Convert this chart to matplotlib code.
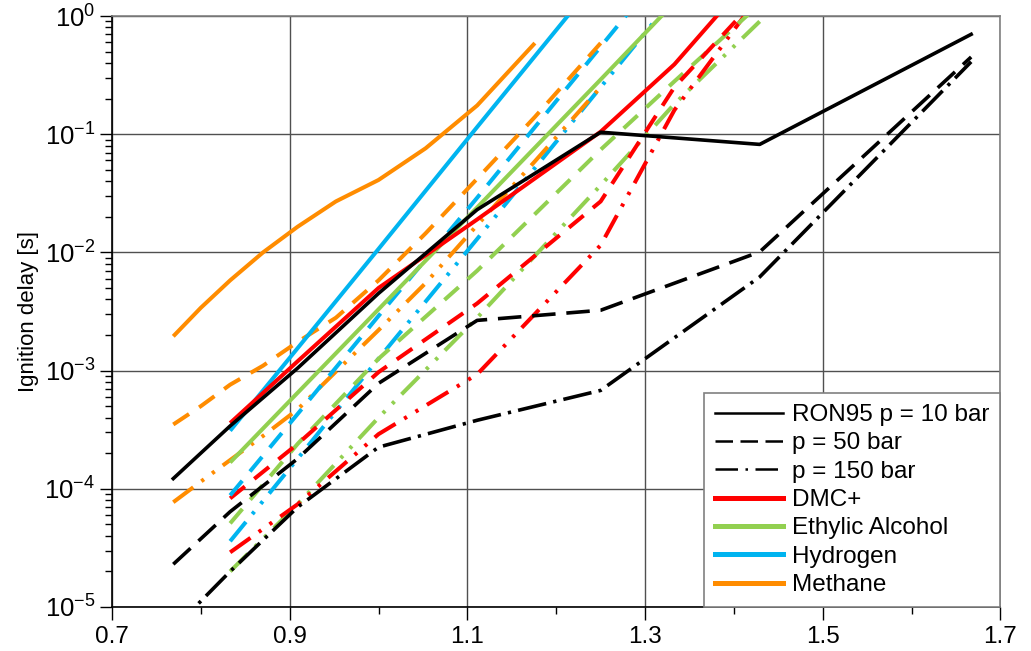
import numpy as np
import matplotlib
matplotlib.use('Agg')
import matplotlib.pyplot as plt
from matplotlib.lines import Line2D
from matplotlib.ticker import FixedLocator, FuncFormatter, LogLocator, NullFormatter

plt.rcParams['font.family'] = ['Liberation Sans', 'DejaVu Sans']
plt.rcParams['mathtext.default'] = 'regular'

# air ratio values (x)
x_ron = [0.769, 0.833, 0.909, 1.0, 1.111, 1.25, 1.429, 1.667]
x_ch4 = [0.769, 0.8, 0.833, 0.870, 0.909, 0.952, 1.0, 1.053, 1.111, 1.176, 1.25]
x_h2 = [0.833, 0.909, 1.0, 1.111, 1.25, 1.333]
x_dmc = [0.833, 0.909, 1.0, 1.111, 1.25, 1.333, 1.429]
x_eth = [0.833, 0.909, 1.0, 1.111, 1.25, 1.333, 1.429]

# ignition delay [s]
ron_10 = [1.22e-4, 3.4e-4, 1.05e-3, 4.5e-3, 2.3e-2, 0.104, 0.082, 0.70]
ron_50 = [2.3e-5, 6.4e-5, 1.8e-4, 7.8e-4, 2.66e-3, 3.24e-3, 1.01e-2, 0.45]
ron_150 = [6.5e-6, 2.0e-5, 7.0e-5, 2.25e-4, 3.8e-4, 6.8e-4, 6.2e-3, 0.41]

ch4_10 = [1.95e-3, 3.4e-3, 5.8e-3, 1.0e-2, 1.65e-2, 2.7e-2, 4.1e-2, 7.6e-2, 0.175, 0.59]
ch4_50 = [3.5e-4, 5.0e-4, 7.6e-4, 1.1e-3, 1.75e-3, 2.8e-3, 5.8e-3, 1.45e-2, 4.2e-2, 0.14, 0.59]
ch4_150 = [7.7e-5, 1.15e-4, 1.75e-4, 2.8e-4, 4.7e-4, 9.8e-4, 2.2e-3, 5.5e-3, 1.7e-2, 5.9e-2, 0.25]

h2_10 = [3.1e-4, 1.55e-3, 1.07e-2, 0.115, 2.2, 10.0]
h2_50 = [8.8e-5, 4.3e-4, 2.9e-3, 2.9e-2, 0.55, 3.2]
h2_150 = [3.6e-5, 1.8e-4, 1.26e-3, 1.3e-2, 0.25, 1.45]

dmc_10 = [3.6e-4, 1.2e-3, 5.0e-3, 1.9e-2, 0.105, 0.39, 2.6]
dmc_50 = [8.3e-5, 2.4e-4, 9.7e-4, 3.7e-3, 2.7e-2, 0.25, 1.5]
dmc_150 = [2.9e-5, 7.4e-5, 2.9e-4, 9.3e-4, 1.15e-2, 0.16, 1.5]

eth_10 = [1.67e-4, 6.5e-4, 3.3e-3, 2.4e-2, 0.29, 1.3, 6.0]
eth_50 = [5.1e-5, 2.4e-4, 1.26e-3, 7.0e-3, 7.4e-2, 0.28, 1.26]
eth_150 = [2.0e-5, 7.4e-5, 4.0e-4, 2.8e-3, 3.7e-2, 0.18, 0.9]

legend_labels = ['RON95 p = 10 bar', 'p = 50 bar', 'p = 150 bar',
                 'DMC+', 'Ethylic Alcohol', 'Hydrogen', 'Methane']

RED = '#FF0000'
GREEN = '#92D050'
CYAN = '#00B4F0'
ORANGE = '#FF8C00'

solid = '-'
dashed = (0, (4.7, 3.0))
dashdot2 = (0, (6.2, 2.5, 0.8, 2.5, 0.8, 2.5))
blk_dashed = (0, (6.5, 3.0))
blk_dashdot = (0, (8.0, 2.0, 0.9, 2.0))

fig = plt.figure(figsize=(10.31, 6.51), dpi=100)
ax = fig.add_axes([0.1086, 0.0676, 0.8618, 0.9078])

lwc = 2.9
colored = [
    (x_eth, eth_150, GREEN, dashdot2), (x_dmc, dmc_150, RED, dashdot2),
    (x_h2, h2_150, CYAN, dashdot2), (x_ch4, ch4_150, ORANGE, dashdot2),
    (x_eth, eth_50, GREEN, dashed), (x_dmc, dmc_50, RED, dashed),
    (x_h2, h2_50, CYAN, dashed), (x_ch4, ch4_50, ORANGE, dashed),
    (x_eth, eth_10, GREEN, solid), (x_h2, h2_10, CYAN, solid),
    (x_ch4[:len(ch4_10)], ch4_10, ORANGE, solid), (x_dmc, dmc_10, RED, solid),
]
for xs, ys, c, ls in colored:
    ax.plot(xs, ys, color=c, lw=lwc, ls=ls, solid_capstyle='butt', zorder=3)

ax.plot(x_ron, ron_150, color='black', lw=2.6, ls=blk_dashdot, zorder=4)
ax.plot(x_ron, ron_50, color='black', lw=2.6, ls=blk_dashed, zorder=4)
ax.plot(x_ron, ron_10, color='black', lw=2.6, ls=solid, zorder=4)

ax.set_yscale('log')
ax.set_xlim(0.7, 1.7)
ax.set_ylim(1e-5, 1)

ax.xaxis.set_major_locator(FixedLocator([0.7, 0.9, 1.1, 1.3, 1.5, 1.7]))
ax.xaxis.set_minor_locator(FixedLocator([0.8, 1.0, 1.2, 1.4, 1.6]))
ax.xaxis.set_major_formatter(FuncFormatter(lambda v, p: '%.1f' % v))
ax.yaxis.set_major_locator(LogLocator(base=10, numticks=10))
ax.yaxis.set_minor_locator(LogLocator(base=10, subs=np.arange(2, 10), numticks=10))
ax.yaxis.set_minor_formatter(NullFormatter())
ax.yaxis.set_major_formatter(FuncFormatter(lambda v, p: '$10^{%d}$' % round(np.log10(v))))

ax.tick_params(axis='both', which='major', direction='out', length=9, width=1,
               labelsize=17.5, color='black')
ax.tick_params(axis='y', which='major', labelsize=18.5)
ax.tick_params(axis='both', which='minor', direction='out', length=5, width=1, color='black')
ax.tick_params(axis='x', pad=5)
ax.tick_params(axis='y', pad=3)

ax.grid(True, which='major', color='#505050', lw=1.0, zorder=1)
ax.set_axisbelow(True)
for s in ['left', 'bottom']:
    ax.spines[s].set_color('black')
    ax.spines[s].set_linewidth(1.2)
for s in ['top', 'right']:
    ax.spines[s].set_color('#808080')
    ax.spines[s].set_linewidth(1.2)

ax.set_ylabel('Ignition delay [s]', fontsize=16, labelpad=4)

handles = [
    Line2D([], [], color='black', lw=1.8, ls='-'),
    Line2D([], [], color='black', lw=1.8, ls=(0, (7, 3))),
    Line2D([], [], color='black', lw=1.8, ls=(0, (9, 3, 1, 3))),
    Line2D([], [], color=RED, lw=3.6),
    Line2D([], [], color=GREEN, lw=3.6),
    Line2D([], [], color=CYAN, lw=3.6),
    Line2D([], [], color=ORANGE, lw=3.6),
]
leg = ax.legend(handles, legend_labels, loc='lower right', fontsize=17.5,
                frameon=True, fancybox=False, framealpha=1, edgecolor='#808080',
                borderaxespad=0, handlelength=2.8, handletextpad=0.37,
                labelspacing=0.26, borderpad=0.45)
leg.get_frame().set_linewidth(1.2)
leg.set_zorder(10)

fig.savefig('out.png', dpi=100)
